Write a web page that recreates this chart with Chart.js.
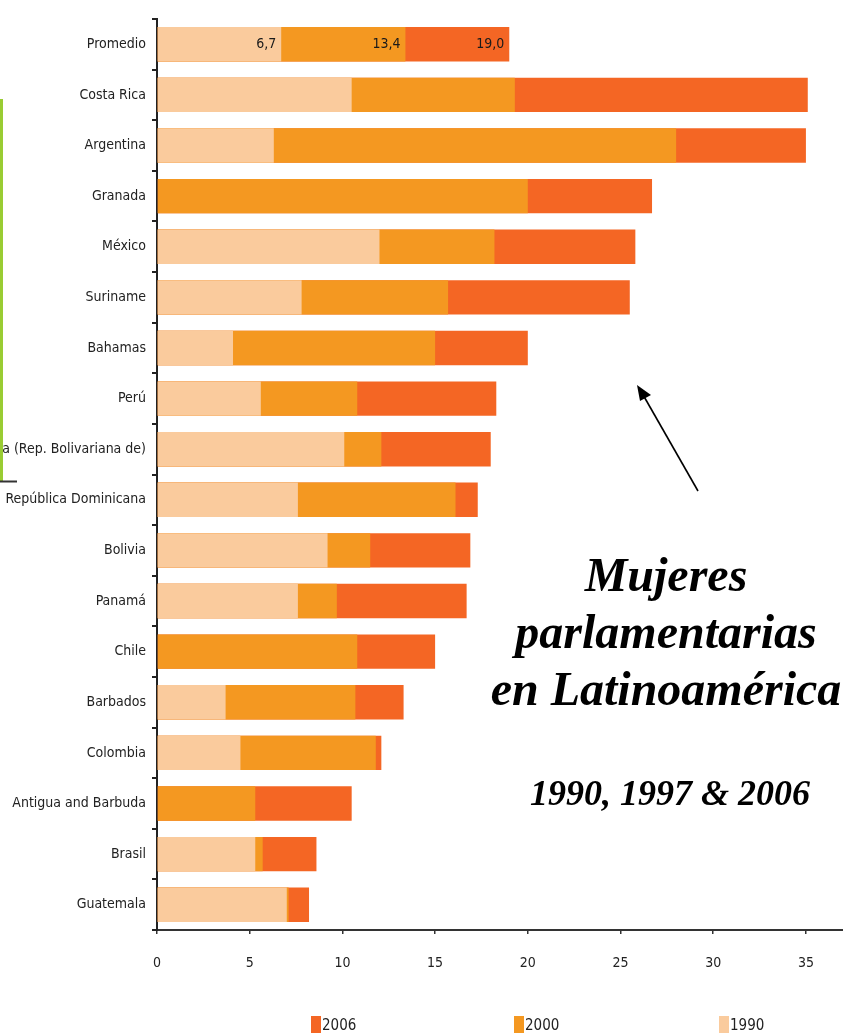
<!DOCTYPE html>
<html>
<head>
<meta charset="utf-8">
<script src="https://cdn.jsdelivr.net/npm/chart.js@4.4.1/dist/chart.umd.min.js"></script>
<style>
    html, body { margin: 0; padding: 0; background: #fff; }
    body { width: 843px; height: 1034px; overflow: hidden; position: relative; }
    #myChart { position: absolute; left: -60px; top: 0; }
    .title { position: absolute; font-family: 'Liberation Serif', 'Times New Roman', serif; font-weight: bold; font-style: italic; color: #000; text-align: center; }
    #legend { position: absolute; top: 1016px; left: 0; width: 843px; height: 20px; font-family: 'Liberation Sans Narrow', 'DejaVu Sans Condensed', sans-serif; font-size: 15px; color: #222; }
    .leg-item { position: absolute; top: 0; line-height: 18px; white-space: nowrap; }
    .leg-box { display: inline-block; width: 10px; height: 17px; vertical-align: top; margin-right: 1px; }
</style>
</head>
<body>
<canvas id="myChart" width="903" height="1034"></canvas>

<svg width="843" height="1034" style="position:absolute;left:0;top:0;pointer-events:none">
    <line x1="1.5" y1="99" x2="1.5" y2="481" stroke="#99cc33" stroke-width="3"/>
    <line x1="0" y1="481.5" x2="17" y2="481.5" stroke="#333" stroke-width="2"/>
    <line x1="698" y1="491" x2="642" y2="393" stroke="#000" stroke-width="1.6"/>
    <polygon points="637,385 651,395 640,401" fill="#000"/>
</svg>

<div class="title" style="left:481px; top:546px; width:370px; font-size:48px; line-height:57px;">Mujeres<br>parlamentarias<br>en Latinoamérica</div>
<div class="title" style="left:485px; top:775px; width:370px; font-size:36px; line-height:36px;">1990, 1997 &amp; 2006</div>

<div id="legend"></div>

<script>
const paises = ['Promedio', 'Costa Rica', 'Argentina', 'Granada', 'México', 'Suriname', 'Bahamas', 'Perú',
    'Venezuela (Rep. Bolivariana de)', 'República Dominicana', 'Bolivia', 'Panamá', 'Chile', 'Barbados',
    'Colombia', 'Antigua and Barbuda', 'Brasil', 'Guatemala'];

const valores1990 = [6.7, 10.5, 6.3, null, 12.0, 7.8, 4.1, 5.6, 10.1, 7.6, 9.2, 7.6, null, 3.7, 4.5, null, 5.3, 7.0];
const valores2000 = [13.4, 19.3, 28.0, 20.0, 18.2, 15.7, 15.0, 10.8, 12.1, 16.1, 11.5, 9.7, 10.8, 10.7, 11.8, 5.3, 5.7, 7.1];
const valores2006 = [19.0, 35.1, 35.0, 26.7, 25.8, 25.5, 20.0, 18.3, 18.0, 17.3, 16.9, 16.7, 15.0, 13.3, 12.1, 10.5, 8.6, 8.2];

const anios = ['1990', '2000', '2006'];
const colores = ['#facb9d', '#f49821', '#f46624'];

const fuenteEtiquetas = "'Liberation Sans Narrow', 'DejaVu Sans Condensed', sans-serif";

// etiquetas de valor dentro de la barra de Promedio
const etiquetasPromedio = {
    id: 'etiquetasPromedio',
    afterDatasetsDraw(chart) {
        const ctx = chart.ctx;
        ctx.save();
        ctx.font = '14px ' + fuenteEtiquetas;
        ctx.fillStyle = '#1a1a1a';
        ctx.textAlign = 'right';
        ctx.textBaseline = 'middle';
        chart.data.datasets.forEach((ds, i) => {
            const el = chart.getDatasetMeta(i).data[0];
            ctx.fillText(ds.data[0].toFixed(1).replace('.', ','), el.x - 5, el.y);
        });
        ctx.restore();
    }
};

new Chart(document.getElementById('myChart'), {
    type: 'bar',
    data: {
        labels: paises,
        datasets: [
            { label: anios[0], data: valores1990, backgroundColor: colores[0] },
            { label: anios[1], data: valores2000, backgroundColor: colores[1] },
            { label: anios[2], data: valores2006, backgroundColor: colores[2] }
        ]
    },
    options: {
        indexAxis: 'y',
        responsive: false,
        animation: false,
        datasets: {
            bar: { grouped: false, categoryPercentage: 1, barPercentage: 0.68 }
        },
        layout: { padding: { top: 19, bottom: 44, left: 0, right: 0 } },
        plugins: {
            legend: { display: false },
            tooltip: { enabled: false }
        },
        scales: {
            x: {
                min: 0,
                max: 37,
                afterBuildTicks: s => { s.ticks = s.ticks.filter(t => t.value % 5 === 0); },
                afterFit: s => { s.height = 60; },
                border: { color: '#333', width: 2 },
                grid: { drawOnChartArea: false, tickLength: 4, color: '#333', lineWidth: 1.5 },
                ticks: { stepSize: 5, padding: 21, color: '#222', font: { family: fuenteEtiquetas, size: 14 } }
            },
            y: {
                afterFit: s => { s.width = 217; },
                border: { color: '#222', width: 2 },
                grid: { drawOnChartArea: false, tickLength: 5, color: '#222', lineWidth: 2 },
                ticks: { padding: 6, color: '#222', autoSkip: false, font: { family: fuenteEtiquetas, size: 14 } }
            }
        }
    },
    plugins: [etiquetasPromedio]
});

// leyenda: 2006, 2000, 1990
const posLeyenda = [311, 514, 719];
const leyenda = document.getElementById('legend');
[2, 1, 0].forEach((k, j) => {
    const item = document.createElement('div');
    item.className = 'leg-item';
    item.style.left = posLeyenda[j] + 'px';
    item.innerHTML = '<span class="leg-box" style="background:' + colores[k] + '"></span>' + anios[k];
    leyenda.appendChild(item);
});
</script>
</body>
</html>
